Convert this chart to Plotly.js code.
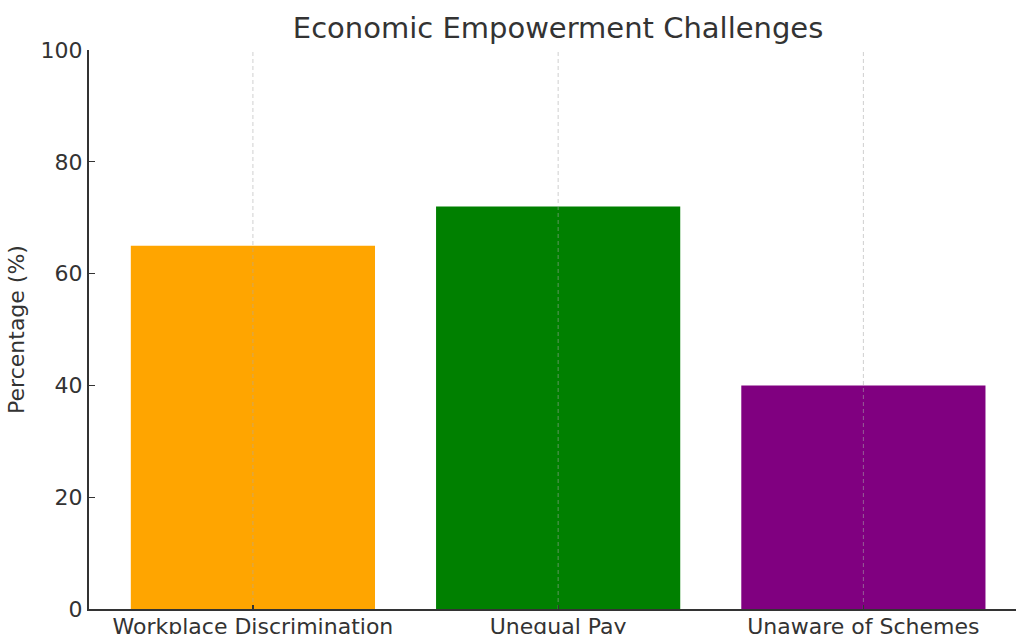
<!DOCTYPE html>
<html>
<head>
<meta charset="utf-8">
<script src="https://cdn.plot.ly/plotly-3.0.1.min.js"></script>
<style>html,body{margin:0;padding:0;background:#fff;}#chart{width:1016px;height:634px;}</style>
</head>
<body>
<div id="chart"></div>
<script>
var categories = ["Workplace Discrimination", "Unequal Pay", "Unaware of Schemes"];
var percentages = [65, 72, 40];
var barColors = ["#FFA500", "#008000", "#800080"];
var yTicks = [0, 20, 40, 60, 80, 100];

var gridX = [], gridY = [];
categories.forEach(function (c) { gridX.push(c, c, null); gridY.push(yTicks[0], yTicks[yTicks.length - 1], null); });

var data = [
  {
    type: "bar",
    x: categories,
    y: percentages,
    marker: { color: barColors, line: { width: 0 } },
    width: 0.8,
    hoverinfo: "x+y"
  },
  {
    type: "scatter",
    mode: "lines",
    x: gridX,
    y: gridY,
    line: { color: "rgba(170,170,170,0.55)", width: 1, dash: "4px,3px" },
    hoverinfo: "skip",
    showlegend: false
  }
];

var textColor = "#333333";
var layout = {
  width: 1016,
  height: 634,
  margin: { l: 89, r: 0, t: 50, b: 25 },
  paper_bgcolor: "#ffffff",
  plot_bgcolor: "#ffffff",
  showlegend: false,
  font: { family: "DejaVu Sans", color: textColor, size: 22 },
  title: {
    text: "Economic Empowerment Challenges",
    font: { family: "DejaVu Sans", size: 29, color: textColor },
    xref: "paper",
    x: 0.506,
    xanchor: "center",
    yref: "container",
    y: 0.956,
    yanchor: "middle"
  },
  xaxis: {
    type: "category",
    range: [-0.537, 2.5],
    showgrid: false,
    showline: true,
    linecolor: "#333333",
    linewidth: 2,
    ticks: "inside",
    ticklen: 4,
    tickwidth: 1.2,
    tickcolor: "#333333",
    ticklabelstandoff: -3,
    tickfont: { family: "DejaVu Sans", size: 22, color: textColor },
    zeroline: false,
    fixedrange: true
  },
  yaxis: {
    range: [0, 100],
    tickvals: yTicks,
    showgrid: false,
    showline: true,
    linecolor: "#333333",
    linewidth: 2,
    ticks: "inside",
    ticklen: 6,
    tickwidth: 1.2,
    tickcolor: "#333333",
    tickfont: { family: "DejaVu Sans", size: 22, color: textColor },
    zeroline: false,
    title: { text: "Percentage (%)", font: { family: "DejaVu Sans", size: 22, color: textColor }, standoff: 10 },
    fixedrange: true
  }
};

Plotly.newPlot("chart", data, layout, { displayModeBar: false, staticPlot: true });
</script>
</body>
</html>
